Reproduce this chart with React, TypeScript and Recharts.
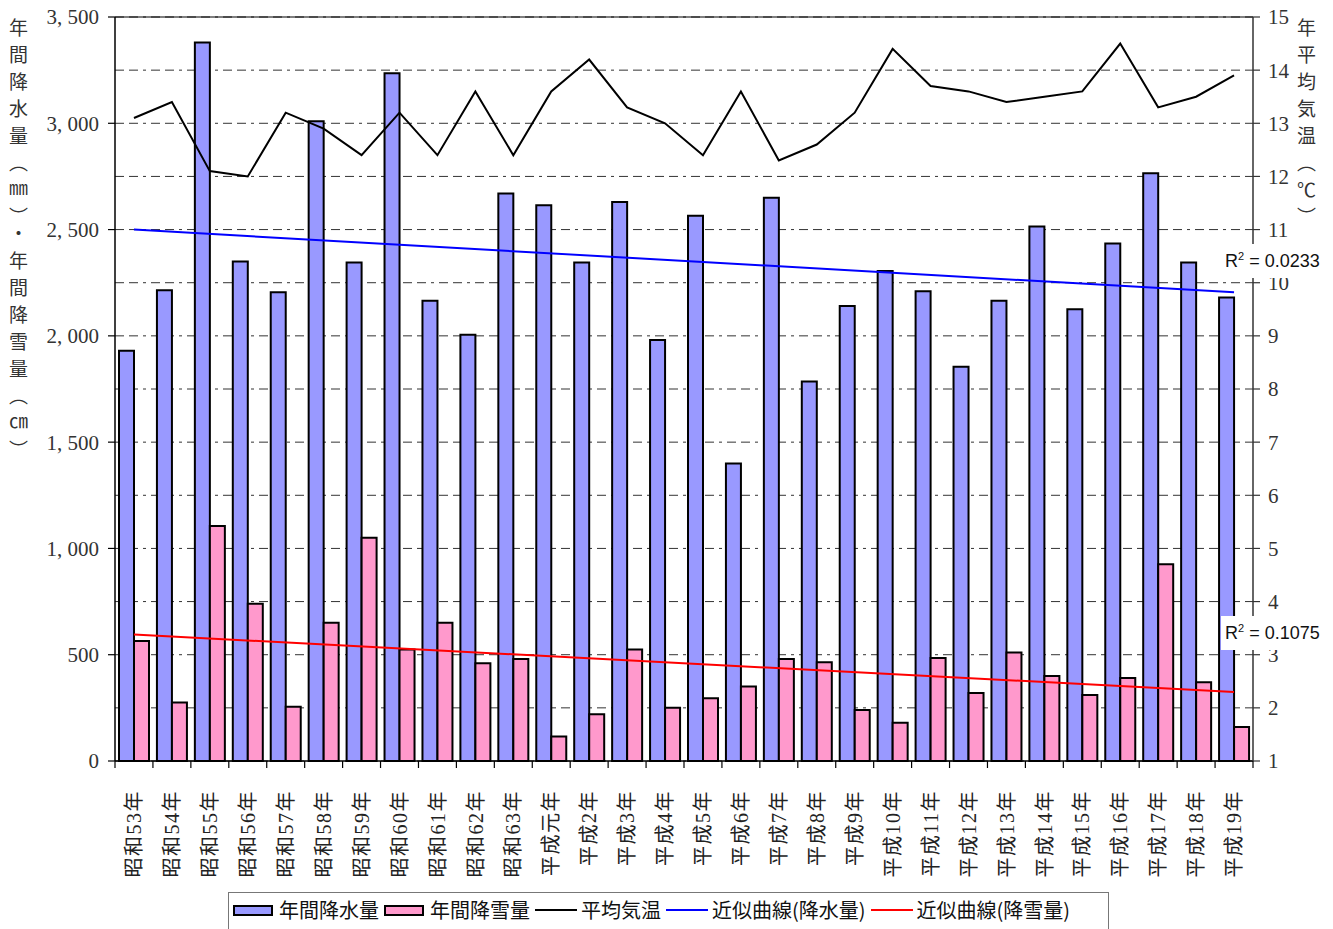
import React from 'react';
import {
  ComposedChart,
  Bar,
  Line,
  XAxis,
  YAxis,
  CartesianGrid,
  Legend,
  ReferenceLine,
} from 'recharts';

// ---- data ----
const years = [
  '昭和53年', '昭和54年', '昭和55年', '昭和56年', '昭和57年', '昭和58年', '昭和59年',
  '昭和60年', '昭和61年', '昭和62年', '昭和63年', '平成元年', '平成2年', '平成3年',
  '平成4年', '平成5年', '平成6年', '平成7年', '平成8年', '平成9年', '平成10年',
  '平成11年', '平成12年', '平成13年', '平成14年', '平成15年', '平成16年', '平成17年',
  '平成18年', '平成19年',
];

const rainfall = [
  1930, 2215, 3380, 2350, 2205, 3010, 2345, 3235, 2165, 2005, 2670, 2615, 2345, 2630, 1980,
  2565, 1400, 2650, 1785, 2140, 2305, 2210, 1855, 2165, 2515, 2125, 2435, 2765, 2345, 2180,
];

const snowfall = [
  565, 275, 1105, 740, 255, 650, 1050, 525, 650, 460, 480, 115, 220, 525, 250,
  295, 350, 480, 465, 240, 180, 485, 320, 510, 400, 310, 390, 925, 370, 160,
];

const temperature = [
  13.1, 13.4, 12.1, 12.0, 13.2, 12.9, 12.4, 13.2, 12.4, 13.6, 12.4, 13.6, 14.2, 13.3, 13.0,
  12.4, 13.6, 12.3, 12.6, 13.2, 14.4, 13.7, 13.6, 13.4, 13.5, 13.6, 14.5, 13.3, 13.5, 13.9,
];

// trend line end values (first year, last year)
const rainTrendEnds = [2500, 2205];
const snowTrendEnds = [595, 325];

const leftTicks = [0, 500, 1000, 1500, 2000, 2500, 3000, 3500];
const rightTicks = [1, 2, 3, 4, 5, 6, 7, 8, 9, 10, 11, 12, 13, 14, 15];

const r2Rain = '0.0233';
const r2Snow = '0.1075';

const legendItems = [
  { label: '年間降水量', kind: 'rect', color: '#9999FF' },
  { label: '年間降雪量', kind: 'rect', color: '#FF99CC' },
  { label: '平均気温', kind: 'line', color: '#000000' },
  { label: '近似曲線(降水量)', kind: 'line', color: '#0000FF' },
  { label: '近似曲線(降雪量)', kind: 'line', color: '#FF0000' },
];

const data = years.map((year, i) => ({
  year,
  rain: rainfall[i],
  snow: snowfall[i],
  temp: temperature[i],
  rainTrend: i === 0 ? rainTrendEnds[0] : i === years.length - 1 ? rainTrendEnds[1] : null,
  snowTrend: i === 0 ? snowTrendEnds[0] : i === years.length - 1 ? snowTrendEnds[1] : null,
}));

// ---- layout ----
const W = 1333;
const H = 929;
const LEFT_AXIS_W = 115;
const RIGHT_AXIS_W = 50;
const MARGIN_RIGHT = 30;
const PLOT_W = W - LEFT_AXIS_W - RIGHT_AXIS_W - MARGIN_RIGHT;
const HALF_BAND = PLOT_W / years.length / 2;

const serif = "'Liberation Serif', 'Noto Sans CJK JP', serif";
const gothic = "'Noto Sans CJK JP', 'Noto Sans', sans-serif";

const fmtLeft = (v: number) => {
  if (v < 1000) return String(v);
  const s = String(v);
  return s.slice(0, s.length - 3) + ', ' + s.slice(s.length - 3);
};

const XTick = (props: any) => {
  const { x, y, payload, index } = props;
  const ty = y + 22;
  return (
    <g>
      {index === 0 && (
        <line x1={x - HALF_BAND} x2={x - HALF_BAND} y1={y - 7} y2={y} stroke="#000" strokeWidth={1.2} />
      )}
      <line x1={x + HALF_BAND} x2={x + HALF_BAND} y1={y - 7} y2={y} stroke="#000" strokeWidth={1.2} />
      <text
        x={x}
        y={ty}
        transform={`rotate(-90, ${x}, ${ty})`}
        textAnchor="end"
        dy="0.36em"
        fontSize={20}
        letterSpacing={1.5}
        fontFamily={serif}
        fill="#222"
      >
        {payload.value}
      </text>
    </g>
  );
};

const LegendContent = () => (
  <div
    style={{
      boxSizing: 'border-box',
      height: 37,
      width: 881,
      border: '1px solid #777',
      borderBottom: 'none',
      display: 'flex',
      alignItems: 'center',
      paddingLeft: 4,
      paddingBottom: 2,
      fontFamily: gothic,
      fontSize: 20,
      color: '#111',
      background: '#fff',
      whiteSpace: 'nowrap',
    }}
  >
    {legendItems.map((it) => (
      <div key={it.label} style={{ display: 'flex', alignItems: 'center', marginRight: 5 }}>
        {it.kind === 'rect' ? (
          <div
            style={{
              boxSizing: 'border-box',
              width: 40,
              height: 11,
              background: it.color,
              border: '2px solid #000',
              marginRight: 6,
            }}
          />
        ) : (
          <div style={{ width: 42, height: 2, background: it.color, marginRight: 4 }} />
        )}
        <span style={{ lineHeight: '24px' }}>{it.label}</span>
      </div>
    ))}
  </div>
);

const verticalTitle: React.CSSProperties = {
  position: 'absolute',
  writingMode: 'vertical-rl',
  fontFamily: gothic,
  fontSize: 19,
  letterSpacing: 8,
  color: '#333',
  lineHeight: 1,
};

const r2Box: React.CSSProperties = {
  position: 'absolute',
  background: '#fff',
  fontFamily: "'Liberation Sans', Arial, sans-serif",
  fontSize: 18,
  color: '#111',
  padding: '6px 3px 6px 4px',
  lineHeight: '22px',
};

export default function App() {
  return (
    <div style={{ position: 'absolute', left: 0, top: 0, width: W, height: H, background: '#fff' }}>
      <ComposedChart
        width={W}
        height={H}
        data={data}
        margin={{ top: 17, right: MARGIN_RIGHT, left: 0, bottom: 0 }}
        barGap={0}
      >
        <CartesianGrid
          yAxisId="right"
          horizontal
          vertical={false}
          stroke="#333"
          strokeWidth={1}
          strokeDasharray="9 5 9 5 3 5"
        />
        <XAxis
          dataKey="year"
          interval={0}
          height={131}
          tickLine={false}
          tickSize={7}
          tickMargin={0}
          axisLine={{ stroke: '#000', strokeWidth: 1.5 }}
          tick={<XTick />}
        />
        <YAxis
          yAxisId="left"
          width={LEFT_AXIS_W}
          domain={[0, 3500]}
          ticks={leftTicks}
          interval={0}
          tickFormatter={fmtLeft}
          tickSize={7}
          tickMargin={9}
          axisLine={{ stroke: '#000', strokeWidth: 1.5 }}
          tickLine={{ stroke: '#000', strokeWidth: 1.2 }}
          tick={{ fontSize: 21, fontFamily: serif, fill: '#333' }}
        />
        <YAxis
          yAxisId="right"
          orientation="right"
          width={RIGHT_AXIS_W}
          domain={[1, 15]}
          ticks={rightTicks}
          interval={0}
          tickSize={7}
          tickMargin={8}
          axisLine={{ stroke: '#333', strokeWidth: 1.5 }}
          tickLine={{ stroke: '#333', strokeWidth: 1.2 }}
          tick={{ fontSize: 21, fontFamily: serif, fill: '#333' }}
        />
        <ReferenceLine yAxisId="left" y={3500} stroke="#000" strokeWidth={1.2} />
        <Bar
          yAxisId="left"
          dataKey="rain"
          name="年間降水量"
          fill="#9999FF"
          stroke="#000"
          strokeWidth={2}
          barSize={15}
          isAnimationActive={false}
        />
        <Bar
          yAxisId="left"
          dataKey="snow"
          name="年間降雪量"
          fill="#FF99CC"
          stroke="#000"
          strokeWidth={2}
          barSize={15}
          isAnimationActive={false}
        />
        <Line
          yAxisId="right"
          dataKey="temp"
          name="平均気温"
          type="linear"
          stroke="#000"
          strokeWidth={2}
          dot={false}
          isAnimationActive={false}
        />
        <Line
          yAxisId="left"
          dataKey="rainTrend"
          name="近似曲線(降水量)"
          type="linear"
          stroke="#0000FF"
          strokeWidth={2}
          dot={false}
          connectNulls
          isAnimationActive={false}
        />
        <Line
          yAxisId="left"
          dataKey="snowTrend"
          name="近似曲線(降雪量)"
          type="linear"
          stroke="#FF0000"
          strokeWidth={2}
          dot={false}
          connectNulls
          isAnimationActive={false}
        />
        <Legend
          verticalAlign="bottom"
          content={<LegendContent />}
          wrapperStyle={{ left: 228, width: 881, bottom: 0 }}
        />
      </ComposedChart>

      <div style={{ ...verticalTitle, left: 9, top: 18 }}>年間降水量（㎜）・年間降雪量（㎝）</div>
      <div style={{ ...verticalTitle, left: 1297, top: 18 }}>年平均気温（℃）</div>

      <div style={{ ...r2Box, left: 1221, top: 244 }}>
        R<sup style={{ fontSize: 11, verticalAlign: 'super', lineHeight: 0 }}>2</sup> = {r2Rain}
      </div>
      <div style={{ ...r2Box, left: 1221, top: 616 }}>
        R<sup style={{ fontSize: 11, verticalAlign: 'super', lineHeight: 0 }}>2</sup> = {r2Snow}
      </div>
    </div>
  );
}
